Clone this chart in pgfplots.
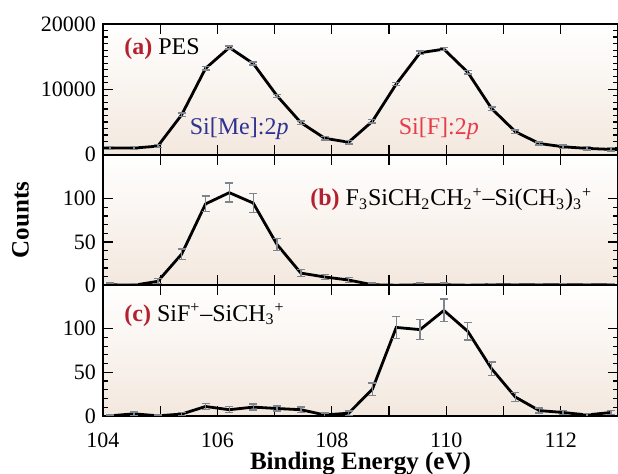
\documentclass[border=0pt]{standalone}
\usepackage{fontspec}
\setmainfont{Liberation Serif}
\usepackage{pgfplots}
\pgfplotsset{compat=1.18}
\usepackage{pgfplotstable}
\definecolor{bgbeige}{HTML}{F3E8DE}
\definecolor{labred}{HTML}{B5202E}
\definecolor{meblue}{HTML}{2E3192}
\definecolor{fred}{HTML}{E83A4A}
\definecolor{errgray}{HTML}{7F858C}

% x  y  e  (PES)
\pgfplotstableread{
x y e
103.708 1000 0
104.125 1000 250
104.542 1000 250
104.958 1300 250
105.375 6100 250
105.792 13200 250
106.208 16400 250
106.625 13950 250
107.042 9000 250
107.458 4900 250
107.875 2500 250
108.292 1900 250
108.708 5100 250
109.125 10800 250
109.542 15600 250
109.958 16150 250
110.375 12600 250
110.792 7050 250
111.208 3500 250
111.625 1700 250
112.042 1200 250
112.458 950 250
112.875 800 250
113.292 750 0
}\pes

\pgfplotstableread{
x y e
104.125 0.5 2
104.542 0 2
104.958 4.5 3
105.375 36 6
105.792 94 9
106.208 107 11
106.625 95 11
107.042 47 7
107.458 14 4
107.875 9.5 3
108.292 6 3
108.708 0.5 2
109.125 0 1
109.542 0.5 2
109.958 0.5 2
110.375 0 1
110.792 0.5 1.5
111.208 0.5 1.5
111.625 0.5 1.5
112.042 0.5 1.5
112.458 0.5 1.5
112.875 0.5 1.5
}\panelb

\pgfplotstableread{
x y e
104.125 0 1
104.542 2.3 2
104.958 0 1
105.375 2 2
105.792 10.7 3.5
106.208 7 3.5
106.625 10 3.5
107.042 8.4 3
107.458 7 3
107.875 1 2
108.292 3 2.5
108.708 30.5 7
109.125 101.5 12.5
109.542 99 11.5
109.958 121 13
110.375 97 10
110.792 54 8
111.208 21.5 5
111.625 6 3
112.042 3.8 2.5
112.458 1 1.5
112.875 3.8 2.5
}\panelc

\pgfplotsset{
  panel/.style={
    scale only axis, width=257.5pt, height=65.3pt,
    anchor=north west,
    xmin=104, xmax=113,
    xtick={104,...,113},
    tick align=inside,
    major tick length=5pt, minor tick length=2.5pt,
    axis line style={line width=1pt, black},
    every tick/.style={black, line width=0.6pt},
    axis background/.style={top color=white, bottom color=bgbeige},
    tick label style={font=\fontsize{11}{12}\selectfont},
    /pgf/number format/assume math mode=true,
    /pgf/number format/1000 sep={},
    scaled y ticks=false,
  },
  dat/.style={black, line width=1.4pt, mark=none,
    error bars/.cd, y dir=both, y explicit,
    error bar style={errgray, line width=0.7pt},
    error mark options={rotate=90, mark size=2pt, errgray, line width=0.7pt}},
}

\begin{document}
\begin{tikzpicture}
\begin{axis}[panel, at={(0pt,0pt)},
  ymin=0, ymax=20000, ytick={0,10000,20000}, minor y tick num=9,
  xticklabels={}]
\addplot[dat] table[x=x, y=y, y error=e] {\pes};
\node[anchor=west, font=\fontsize{12}{14}\selectfont] at (axis cs:104.25,16200)
  {\textcolor{labred}{\textbf{(a)}} PES};
\node[font=\fontsize{12}{14}\selectfont, text=meblue] at (axis cs:106.38,4000) {Si[Me]:2\textit{p}};
\node[font=\fontsize{12}{14}\selectfont, text=fred] at (axis cs:109.87,4000) {Si[F]:2\textit{p}};
\end{axis}

\begin{axis}[panel, at={(0pt,-65.3pt)},
  ymin=0, ymax=151, ytick={0,50,100}, minor y tick num=4,
  xticklabels={},
  ylabel={\textbf{Counts}},
  every axis y label/.append style={at={(axis description cs:-0.16,0.5)}, anchor=center,
    font=\fontsize{12.5}{14}\selectfont}]
\addplot[dat] table[x=x, y=y, y error=e] {\panelb};
\node[anchor=west, font=\fontsize{12}{14}\selectfont] at (axis cs:107.5,99)
  {\textcolor{labred}{\textbf{(b)}} F\textsubscript{3}SiCH\textsubscript{2}CH\textsubscript{2}\textsuperscript{+}–Si(CH\textsubscript{3})\textsubscript{3}\textsuperscript{+}};
\end{axis}

\begin{axis}[panel, at={(0pt,-130.6pt)},
  ymin=0, ymax=150, ytick={0,50,100}, minor y tick num=4,
  xticklabels={104,,106,,108,,110,,112,},
  x tick label style={anchor=north, inner sep=0pt, yshift=-8.5pt},
  xlabel={\textbf{Binding Energy (eV)}},
  xlabel style={at={(axis description cs:0.5,0)}, anchor=north, inner sep=0pt,
    yshift=-18pt, font=\fontsize{12.5}{14}\selectfont}]
\addplot[dat] table[x=x, y=y, y error=e] {\panelc};
\node[anchor=west, font=\fontsize{12}{14}\selectfont] at (axis cs:104.25,116)
  {\textcolor{labred}{\textbf{(c)}} SiF\textsuperscript{+}–SiCH\textsubscript{3}\textsuperscript{+}};
\end{axis}

\pgfresetboundingbox
\path[use as bounding box] (-51.5pt,12pt) rectangle (257.5pt,-224.5pt);
\end{tikzpicture}
\end{document}
